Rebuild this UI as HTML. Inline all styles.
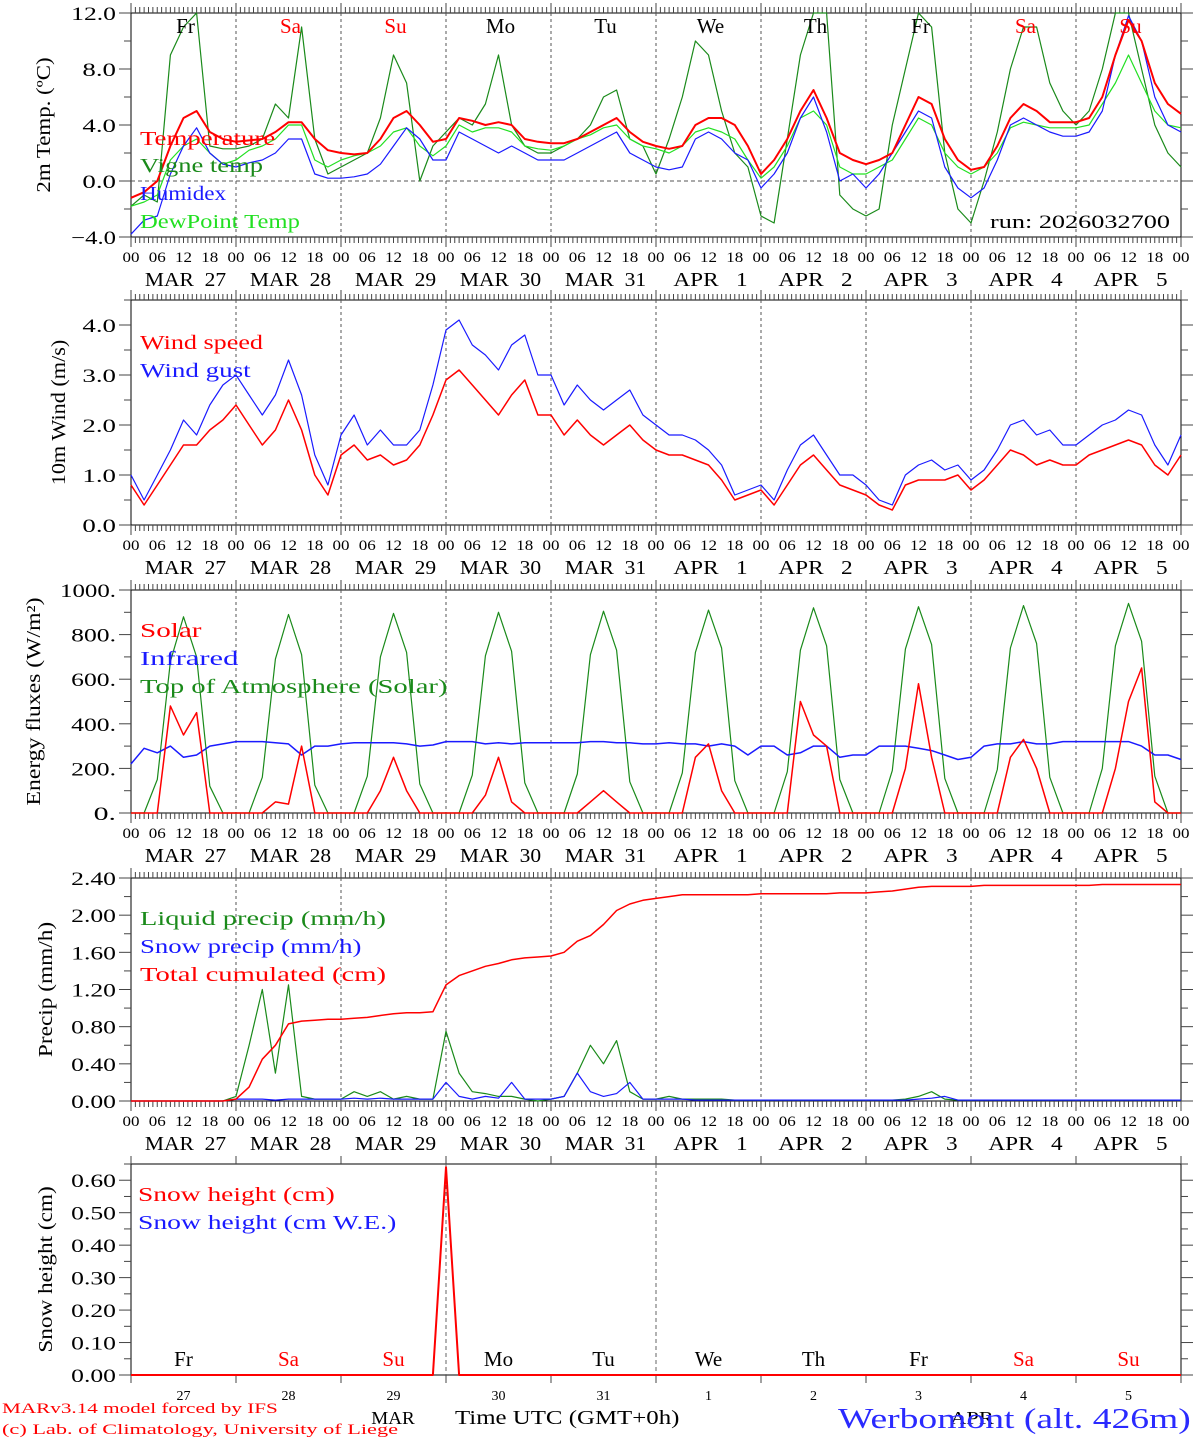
<!DOCTYPE html>
<html><head><meta charset="utf-8"><style>
html,body{margin:0;padding:0;background:#fff;}
svg{display:block;font-family:"Liberation Serif",serif;}
</style></head><body>
<svg id="c" width="1194" height="1440" viewBox="0 0 1194 1440" xmlns="http://www.w3.org/2000/svg"></svg>
<script>
// ---------- data (3-hourly, starting MAR 27 00 UTC) ----------
const days = ["Fr","Sa","Su","Mo","Tu","We","Th","Fr","Sa","Su"];
const dayColors = ["#000","#f00","#f00","#000","#000","#000","#000","#000","#f00","#f00"];
const dates = ["MAR  27","MAR  28","MAR  29","MAR  30","MAR  31","APR   1","APR   2","APR   3","APR   4","APR   5"];
const dayNums = ["27","28","29","30","31","1","2","3","4","5"];
const hourLabels = ["00","06","12","18"];

const tempT = [-1.2,-0.8,0.0,2.5,4.5,5.0,3.5,3.0, 2.8,2.9,3.0,3.5,4.2,4.2,3.0,2.2, 2.0,1.9,2.0,3.0,4.5,5.0,4.0,2.8, 3.0,4.5,4.3,4.0,4.2,4.0,3.0,2.8, 2.7,2.7,3.0,3.5,4.0,4.5,3.5,2.8, 2.5,2.3,2.5,4.0,4.5,4.5,4.0,2.5, 0.5,1.5,3.0,5.0,6.5,4.5,2.0,1.5, 1.2,1.5,2.0,4.0,6.0,5.5,3.0,1.5, 0.8,1.0,2.5,4.5,5.5,5.0,4.2,4.2, 4.2,4.5,6.0,9.0,11.5,10.0,7.0,5.5,4.8];
const tempVigne = [-1.8,-1.0,-1.5,9.0,11.0,12.0,2.5,2.3, 2.3,2.5,3.0,5.5,4.5,11.0,3.0,0.5, 1.0,1.5,2.0,4.5,9.0,7.0,0.0,2.5, 3.5,4.5,4.0,5.5,9.0,4.0,2.5,2.0, 2.0,2.5,3.0,4.0,6.0,6.5,3.0,2.5, 0.5,3.0,6.0,10.0,9.0,5.0,2.0,1.0, -2.5,-3.0,3.0,9.0,12.0,12.0,-1.0,-2.0, -2.5,-2.0,4.0,8.0,12.0,11.0,2.0,-2.0, -3.0,0.0,3.5,8.0,11.0,11.0,7.0,5.0, 4.0,5.0,8.0,12.0,12.0,8.0,4.0,2.0,1.0];
const tempHumidex = [-3.8,-2.8,-2.5,0.5,2.5,3.8,2.0,1.2, 1.0,1.3,1.5,2.0,3.0,3.0,0.5,0.2, 0.2,0.3,0.5,1.2,2.5,3.8,3.0,1.5, 1.5,3.5,3.0,2.5,2.0,2.5,2.0,1.5, 1.5,1.5,2.0,2.5,3.0,3.5,2.0,1.5, 1.0,0.8,1.0,3.0,3.5,3.0,2.0,1.5, -0.5,0.5,2.0,4.5,6.0,3.5,0.0,0.5, -0.5,0.5,2.0,3.5,5.0,4.5,1.0,-0.5, -1.2,-0.5,1.5,4.0,4.5,4.0,3.5,3.2, 3.2,3.5,5.0,9.0,11.8,10.0,6.0,4.0,3.5];
const tempDew = [-1.8,-1.5,-1.0,1.5,2.5,3.0,2.0,1.2, 1.5,2.2,2.5,3.0,4.0,4.0,1.5,1.0, 1.5,1.8,2.0,2.5,3.5,3.8,2.5,1.8, 2.5,4.0,3.5,3.8,3.8,3.5,2.5,2.3, 2.2,2.5,3.0,3.3,3.8,4.0,3.0,2.5, 2.3,2.0,2.5,3.5,3.8,3.5,3.0,1.5, 0.2,1.0,2.5,4.5,5.0,4.0,1.0,0.5, 0.5,1.0,1.5,3.0,4.5,4.0,2.0,1.0, 0.5,1.0,2.0,3.8,4.2,4.0,3.8,3.8, 3.8,4.0,5.5,7.0,9.0,7.0,5.0,4.0,3.8];

const windSpeed = [0.8,0.4,0.8,1.2,1.6,1.6,1.9,2.1, 2.4,2.0,1.6,1.9,2.5,1.9,1.0,0.6, 1.4,1.6,1.3,1.4,1.2,1.3,1.6,2.2, 2.9,3.1,2.8,2.5,2.2,2.6,2.9,2.2, 2.2,1.8,2.1,1.8,1.6,1.8,2.0,1.7, 1.5,1.4,1.4,1.3,1.2,0.9,0.5,0.6, 0.7,0.4,0.8,1.2,1.4,1.1,0.8,0.7, 0.6,0.4,0.3,0.8,0.9,0.9,0.9,1.0, 0.7,0.9,1.2,1.5,1.4,1.2,1.3,1.2, 1.2,1.4,1.5,1.6,1.7,1.6,1.2,1.0,1.4];
const windGust = [1.0,0.5,1.0,1.5,2.1,1.8,2.4,2.8, 3.0,2.6,2.2,2.6,3.3,2.6,1.4,0.8, 1.8,2.2,1.6,1.9,1.6,1.6,1.9,2.8, 3.9,4.1,3.6,3.4,3.1,3.6,3.8,3.0, 3.0,2.4,2.8,2.5,2.3,2.5,2.7,2.2, 2.0,1.8,1.8,1.7,1.5,1.2,0.6,0.7, 0.8,0.5,1.1,1.6,1.8,1.4,1.0,1.0, 0.8,0.5,0.4,1.0,1.2,1.3,1.1,1.2, 0.9,1.1,1.5,2.0,2.1,1.8,1.9,1.6, 1.6,1.8,2.0,2.1,2.3,2.2,1.6,1.2,1.8];

const fluxSolar = [0,0,0,480,350,450,0,0, 0,0,0,50,40,300,0,0, 0,0,0,100,250,100,0,0, 0,0,0,80,250,50,0,0, 0,0,0,50,100,50,0,0, 0,0,0,250,310,100,0,0, 0,0,0,500,350,300,0,0, 0,0,0,200,580,250,0,0, 0,0,0,250,330,200,0,0, 0,0,0,200,500,650,50,0,0];
const fluxIR = [220,290,270,300,250,260,300,310, 320,320,320,315,310,260,300,300, 310,315,315,315,315,310,300,305, 320,320,320,310,315,310,315,315, 315,315,315,320,320,315,315,310, 310,315,310,310,300,310,300,260, 300,300,260,270,300,300,250,260, 260,300,300,300,290,280,260,240, 250,300,310,310,320,310,310,320, 320,320,320,320,320,300,260,260,240];
const fluxTOA = [0,0,150,680,880,700,120,0, 0,0,160,690,890,710,125,0, 0,0,165,700,895,720,130,0, 0,0,170,705,900,725,135,0, 0,0,175,710,905,730,140,0, 0,0,180,720,910,740,145,0, 0,0,185,730,920,750,150,0, 0,0,190,735,925,755,155,0, 0,0,195,740,930,760,160,0, 0,0,200,750,940,770,165,0,0];

const precLiquid = [0,0,0,0,0,0,0,0, 0.05,0.6,1.2,0.3,1.25,0.05,0.02,0.02, 0.02,0.1,0.05,0.1,0.02,0.05,0.02,0.02, 0.75,0.3,0.1,0.08,0.05,0.05,0.02,0.0, 0.02,0.05,0.3,0.6,0.4,0.65,0.1,0.02, 0.02,0.05,0.02,0.02,0.02,0.02,0.01,0.01, 0.01,0.01,0.01,0.01,0.01,0.01,0.01,0.01, 0.01,0.01,0.01,0.02,0.05,0.1,0.02,0.01, 0.01,0.01,0.01,0.01,0.01,0.01,0.01,0.01, 0.01,0.01,0.01,0.01,0.01,0.01,0.01,0.01,0.01];
const precSnow = [0,0,0,0,0,0,0,0, 0.02,0.02,0.02,0.01,0.02,0.02,0.02,0.02, 0.02,0.03,0.02,0.03,0.02,0.02,0.02,0.02, 0.2,0.05,0.02,0.05,0.03,0.2,0.02,0.02, 0.02,0.05,0.3,0.1,0.05,0.08,0.2,0.02, 0.02,0.02,0.02,0.01,0.01,0.01,0.01,0.01, 0.01,0.01,0.01,0.01,0.01,0.01,0.01,0.01, 0.01,0.01,0.01,0.01,0.02,0.03,0.05,0.01, 0.01,0.01,0.01,0.01,0.01,0.01,0.01,0.01, 0.01,0.01,0.01,0.01,0.01,0.01,0.01,0.01,0.01];
const precTotal = [0,0,0,0,0,0,0,0, 0.02,0.15,0.45,0.6,0.83,0.86,0.87,0.88, 0.88,0.89,0.9,0.92,0.94,0.95,0.95,0.96, 1.25,1.35,1.4,1.45,1.48,1.52,1.54,1.55, 1.56,1.6,1.72,1.78,1.9,2.05,2.12,2.16, 2.18,2.2,2.22,2.22,2.22,2.22,2.22,2.22, 2.23,2.23,2.23,2.23,2.23,2.23,2.24,2.24, 2.24,2.25,2.26,2.28,2.3,2.31,2.31,2.31, 2.31,2.32,2.32,2.32,2.32,2.32,2.32,2.32, 2.32,2.32,2.33,2.33,2.33,2.33,2.33,2.33,2.33];

const snowHeight = [0,0,0,0,0,0,0,0, 0,0,0,0,0,0,0,0, 0,0,0,0,0,0,0,0, 0.64,0,0,0,0,0,0,0, 0,0,0,0,0,0,0,0, 0,0,0,0,0,0,0,0, 0,0,0,0,0,0,0,0, 0,0,0,0,0,0,0,0, 0,0,0,0,0,0,0,0, 0,0,0,0,0,0,0,0,0];

// ---------- drawing ----------
const NS = "http://www.w3.org/2000/svg";
const svg = document.getElementById("c");
const X0 = 131, DAYW = 105, X1 = 1181;
function xAt(hour){ return X0 + hour/24*DAYW; }
function mk(tag, attrs, parent){
  const e = document.createElementNS(NS, tag);
  for (const k in attrs) e.setAttribute(k, attrs[k]);
  (parent||svg).appendChild(e);
  return e;
}
function txt(s, x, y, size, color, anchor, parent, cw){
  const t = mk("text", {x:x, y:y, "font-size":size, fill:color, "text-anchor":anchor||"start"}, parent);
  t.setAttribute("xml:space","preserve");
  t.style.whiteSpace = "pre";
  t.textContent = s;
  if (cw){
    t.setAttribute("textLength", (s.length*cw).toFixed(1));
    t.setAttribute("lengthAdjust", "spacingAndGlyphs");
  }
  return t;
}

const panels = [
  {name:"temperature", top:13, bot:237, min:-4, max:12, major:4, minor:2, fmt:v=>v<0?"\u2212"+Math.abs(v).toFixed(1):v.toFixed(1), zeroDash:true, hours:true,
   title:"2m Temp. (\u00baC)", tx:50},
  {name:"wind", top:300, bot:525, min:0, max:4.5, major:1, minor:0.5, fmt:v=>v.toFixed(1), hours:true, title:"10m Wind (m/s)", tx:65},
  {name:"energy", top:590, bot:813, min:0, max:1000, major:200, minor:100, fmt:v=>v.toFixed(0)+".", hours:true, title:"Energy fluxes (W/m\u00b2)", tx:40},
  {name:"precip", top:878, bot:1101, min:0, max:2.4, major:0.4, minor:0.2, fmt:v=>v.toFixed(2), hours:true, title:"Precip (mm/h)", tx:52},
  {name:"snow", top:1164, bot:1375, min:0, max:0.65, major:0.1, minor:0.05, fmt:v=>v.toFixed(2), hours:false, title:"Snow height (cm)", tx:52}
];

function yScale(p){ return v => p.bot - (v - p.min)/(p.max - p.min)*(p.bot - p.top); }

panels.forEach((p, pi) => {
  const g = mk("g", {});
  
  
  const y = yScale(p);
  const fr = mk("rect", {x:X0, y:p.top, width:X1-X0, height:p.bot-p.top, fill:"none", stroke:"#000", "stroke-width":1}, g);
  
  
  const nMin = Math.round((p.max - p.min)/p.minor);
  for (let i=0;i<=nMin;i++){
    const v = p.min + i*p.minor;
    const yy = y(v);
    const isMaj = Math.abs((v - p.min)/p.major - Math.round((v - p.min)/p.major)) < 1e-6;
    const len = isMaj ? 12 : 7;
    mk("line", {x1:X0-len, y1:yy, x2:X0, y2:yy, stroke:"#444", "stroke-width":1}, g);
    mk("line", {x1:X1, y1:yy, x2:X1+len, y2:yy, stroke:"#444", "stroke-width":1}, g);
    if (isMaj && v <= p.max + 1e-9){
      const s = p.fmt(v);
      const t = txt(s, X0-15, yy+7, 19, "#000", "end", g, 11.2);
      
      
    }
  }
  const tt = txt(p.title, 0, 0, 20, "#000", "middle", g, 10.4);
  tt.setAttribute("transform", `translate(${p.tx},${(p.top+p.bot)/2}) rotate(-90)`);
  
  
  if (p.zeroDash){
    mk("line", {x1:X0, y1:y(0), x2:X1, y2:y(0), stroke:"#555", "stroke-dasharray":"4,3", "stroke-width":1}, g);
  }
  if (p.hours){
    for (let h=0; h<=240; h++){
      const xx = xAt(h);
      const isDay = h%24===0;
      mk("line", {x1:xx, y1:p.bot, x2:xx, y2:p.bot+(isDay?10:6), stroke:"#444", "stroke-width":1}, g);
      mk("line", {x1:xx, y1:p.top, x2:xx, y2:p.top-(isDay?10:6), stroke:"#444", "stroke-width":1}, g);
    }
    for (let d=1; d<10; d++){
      mk("line", {x1:xAt(d*24), y1:p.top, x2:xAt(d*24), y2:p.bot, stroke:"#555", "stroke-dasharray":"3,3", "stroke-width":1}, g);
    }
    for (let d=0; d<=10; d++){
      for (let k=0;k<4;k++){
        if (d===10 && k>0) break;
        const t = txt(hourLabels[k], xAt(d*24+k*6), p.bot+25, 15, "#000", "middle", g, 8.5);
        
        
      }
    }
    for (let d=0; d<10; d++){
      const cw = dates[d].startsWith("APR") ? 10.6 : 11.6;
      const t = txt(dates[d], xAt(d*24+12)+2, p.bot+49, 20, "#000", "middle", g, cw);
      
      
    }
  } else {
    for (let d=0; d<=10; d++){
      mk("line", {x1:xAt(d*24), y1:p.bot, x2:xAt(d*24), y2:p.bot+8, stroke:"#444", "stroke-width":1}, g);
      mk("line", {x1:xAt(d*24), y1:p.top, x2:xAt(d*24), y2:p.top-8, stroke:"#444", "stroke-width":1}, g);
    }
    [72,120].forEach(h => mk("line", {x1:xAt(h), y1:p.top, x2:xAt(h), y2:p.bot, stroke:"#666", "stroke-dasharray":"4,3", "stroke-width":1}, g));
    for (let d=0; d<10; d++){
      const t = txt(dayNums[d], xAt(d*24+12), p.bot+25, 14, "#000", "middle", g);
      
      
    }
  }
});

function series(arr, p, color, width, name){
  const y = yScale(p);
  const pts = arr.map((v,i)=> xAt(i*3).toFixed(1)+","+Math.max(p.top, Math.min(p.bot, y(v))).toFixed(1)).join(" ");
  const l = mk("polyline", {points:pts, fill:"none", stroke:color, "stroke-width":width, "stroke-linejoin":"round"});
  
  
}
function legend(s, x, y, color){
  const t = txt(s, x, y, 20, color, "start", null, 12.3);
  
  
}

series(tempVigne, panels[0], "#1a8a1a", 1.2, "vigne-temp-line");
series(tempDew, panels[0], "#22e022", 1.2, "dewpoint-line");
series(tempHumidex, panels[0], "#1a1aff", 1.2, "humidex-line");
series(tempT, panels[0], "#f00", 2, "temperature-line");
legend("Temperature", 140, 145, "#f00");
legend("Vigne temp", 140, 172, "#1a8a1a");
legend("Humidex", 140, 200, "#1a1aff");
legend("DewPoint Temp", 140, 228, "#22e022");
for (let d=0; d<10; d++){
  const t = txt(days[d], xAt(d*24+12)+2, 33, 21, dayColors[d], "middle", null);
  
  
}
(function(){const t = txt("run: 2026032700", 990, 228, 19, "#000", "start", null, 12);

})();

series(windGust, panels[1], "#1a1aff", 1.2, "wind-gust-line");
series(windSpeed, panels[1], "#f00", 1.5, "wind-speed-line");
legend("Wind speed", 140, 349, "#f00");
legend("Wind gust", 140, 377, "#1a1aff");

series(fluxTOA, panels[2], "#1a8a1a", 1.2, "toa-solar-line");
series(fluxIR, panels[2], "#1a1aff", 1.5, "infrared-line");
series(fluxSolar, panels[2], "#f00", 1.5, "solar-line");
legend("Solar", 140, 637, "#f00");
legend("Infrared", 140, 665, "#1a1aff");
legend("Top of Atmosphere (Solar)", 140, 693, "#1a8a1a");

series(precLiquid, panels[3], "#1a8a1a", 1.2, "liquid-precip-line");
series(precSnow, panels[3], "#1a1aff", 1.2, "snow-precip-line");
series(precTotal, panels[3], "#f00", 1.5, "total-cumulated-line");
legend("Liquid precip (mm/h)", 140, 925, "#1a8a1a");
legend("Snow precip (mm/h)", 140, 953, "#1a1aff");
legend("Total cumulated (cm)", 140, 981, "#f00");

series(snowHeight, panels[4], "#f00", 2, "snow-height-line");
legend("Snow height (cm)", 138, 1201, "#f00");
legend("Snow height (cm W.E.)", 138, 1229, "#1a1aff");
for (let d=0; d<10; d++){
  const t = txt(days[d], xAt(d*24+12), 1366, 21, dayColors[d], "middle", null);
  
  
}

[["MARv3.14 model forced by IFS",2,1413,15,"#f00","start","model-credit",9.85],
 ["(c) Lab. of Climatology, University of Liege",2,1434,15,"#f00","start","lab-credit",9.0],
 ["MAR",393,1424,18,"#000","middle","month-label-mar",14.5],
 ["Time UTC (GMT+0h)",455,1424,20,"#000","start","x-axis-title",13.2],
 ["APR",972,1424,18,"#000","middle","month-label-apr",14.5],
 ["Werbomont (alt. 426m)",838,1428,28,"#2a2aff","start","station-title",16.8]
].forEach(a => {
  const t = txt(a[0], a[1], a[2], a[3], a[4], a[5], null, a[7]);
  
  
});
</script>
</body></html>
